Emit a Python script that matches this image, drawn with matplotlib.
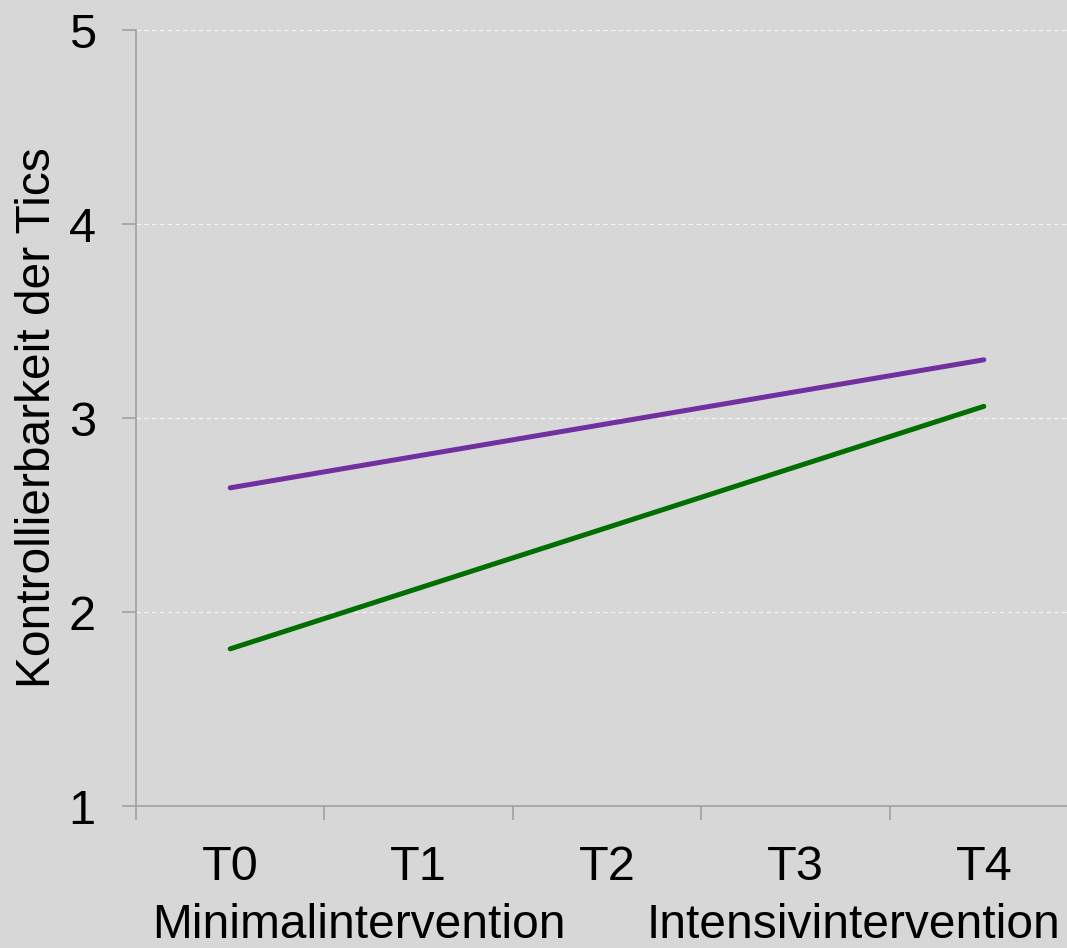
import numpy as np
import matplotlib
matplotlib.use('Agg')
import matplotlib.pyplot as plt

plt.rcParams['font.family'] = ['Liberation Sans', 'DejaVu Sans']

cats = ['T0', 'T1', 'T2', 'T3', 'T4']
x_idx = [0, 4]                 # measured only at T0 and T4
purple_vals = [2.64, 3.30]
green_vals = [1.81, 3.06]
y_ticks = [1, 2, 3, 4, 5]
phase_left = 'Minimalintervention'
phase_right = 'Intensivintervention'
ylab = 'Kontrollierbarkeit der Tics'

bg = '#D7D7D7'
spine_c = '#A0A0A0'

fig = plt.figure(figsize=(10.67, 9.48), dpi=100, facecolor=bg)
ax = fig.add_axes([136/1067, 1-806/948, (1078-136)/1067, (806-30)/948])
ax.set_facecolor(bg)

ax.plot(x_idx, purple_vals, color='#7030A0', lw=3.6, solid_capstyle='round')
ax.plot(x_idx, green_vals, color='#006E00', lw=3.6, solid_capstyle='round')

ax.set_xlim(-0.5, 4.5)
ax.set_ylim(1, 5)
ax.set_yticks(y_ticks)
ax.set_yticklabels([str(v) for v in y_ticks])
for v in y_ticks[1:]:
    ax.axhline(v, color='white', lw=0.8, ls=(0, (4, 3)), alpha=0.8, zorder=0)

ax.set_xticks(np.arange(len(cats)))
ax.set_xticklabels(cats)
ax.set_xticks(np.arange(-0.5, len(cats)), minor=True)
ax.tick_params(axis='x', which='major', length=0, pad=28, labelsize=35)
ax.tick_params(axis='x', which='minor', length=10, width=1.2, color=spine_c, direction='out')
ax.tick_params(axis='y', length=10, width=1.2, color=spine_c, pad=19, labelsize=35)

for s in ['top', 'right']:
    ax.spines[s].set_visible(False)
for s in ['left', 'bottom']:
    ax.spines[s].set_color(spine_c)
    ax.spines[s].set_linewidth(1.2)

ax.set_ylabel(ylab, fontsize=34.5, labelpad=6)

fig.text(152/1067, 1-938/948, phase_left, fontsize=34.5, ha='left', va='baseline')
fig.text(1060/1067, 1-938/948, phase_right, fontsize=34.5, ha='right', va='baseline')

fig.savefig('out.png', dpi=100, facecolor=bg)
